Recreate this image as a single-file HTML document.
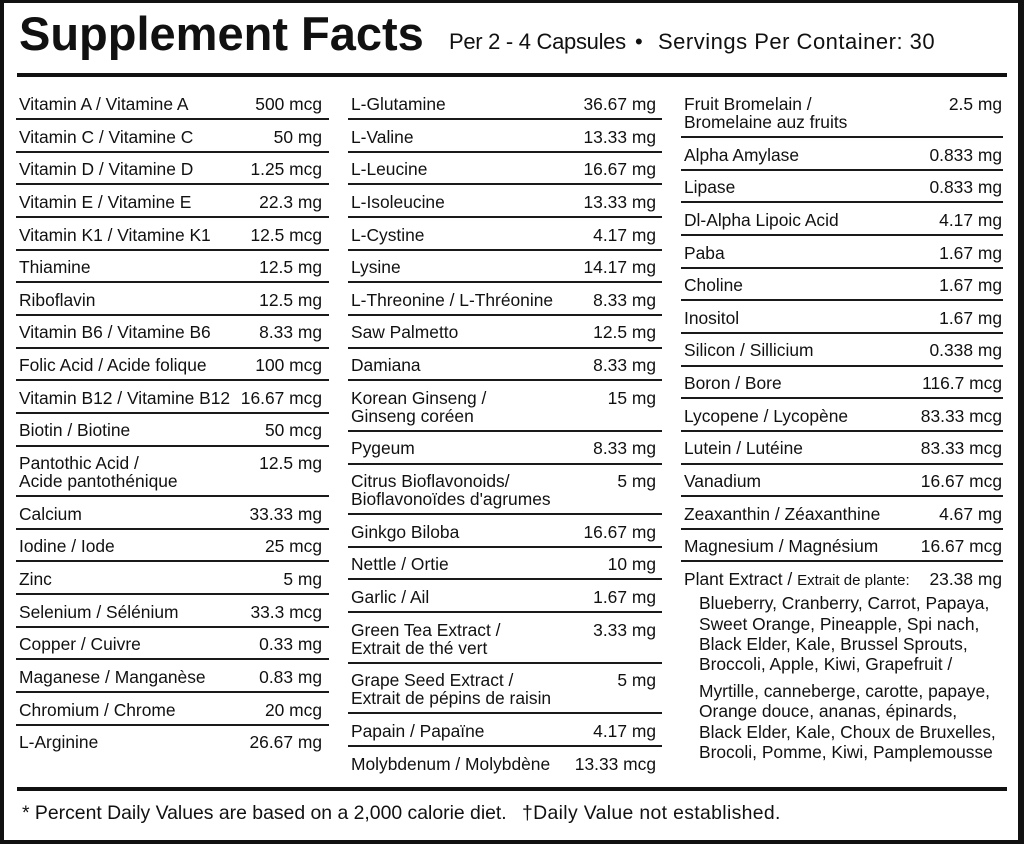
<!DOCTYPE html>
<html>
<head>
<meta charset="utf-8">
<style>
  html, body { margin:0; padding:0; background:#fff; }
  body { width:1024px; height:844px; position:relative; overflow:hidden;
         font-family:"Liberation Sans", Arial, sans-serif; color:#111; }
  .frame { position:absolute; left:0; top:0; width:1024px; height:844px; box-sizing:border-box;
           border-left:4px solid #111; border-top:3px solid #111; border-right:6px solid #111; border-bottom:4px solid #111; }
  .title { position:absolute; left:19px; top:10.2px; font-weight:bold; font-size:47px; line-height:47px; white-space:nowrap; }
  .sub { position:absolute; top:31.4px; font-size:22px; line-height:22px; white-space:nowrap; }
  .thick { position:absolute; left:16.5px; width:990.5px; height:4.6px; background:#111; }
  .col { position:absolute; top:87.5px; font-size:17.4px; }
  .r { box-sizing:border-box; height:32.65px; border-bottom:2px solid #1a1a1a; display:flex; justify-content:space-between;
       align-items:flex-start; line-height:18px; padding-top:7.5px; white-space:nowrap; }
  .d { height:50.65px; }
  .nb { border-bottom:none; }
  .c1 .r { padding-left:3px; padding-right:7px; }
  .c2 .r { padding-left:3px; padding-right:5.5px; }
  .c3 .r { padding-left:3px; padding-right:1px; }
  .plant { line-height:18px; padding-top:7.5px; padding-left:3px; padding-right:1px; white-space:nowrap; }
  .plant .top { display:flex; justify-content:space-between; }
  .small { font-size:15px; }
  .list { padding-left:15px; margin-top:3.2px; line-height:20.4px; }
  .gap { margin-top:6px; }
  .foot { position:absolute; top:804px; font-size:19.4px; line-height:18px; white-space:nowrap; }
</style>
</head>
<body>
<div class="frame"></div>

<div class="title">Supplement Facts</div>
<div class="sub" style="left:449px; letter-spacing:-0.3px;">Per 2 - 4 Capsules</div>
<div class="sub" style="left:635px;">•</div>
<div class="sub" style="left:658px; letter-spacing:0.5px;">Servings Per Container: 30</div>

<div class="thick" style="top:72.7px;"></div>

<div class="col c1" style="left:16px; width:313px;">
  <div class="r"><span>Vitamin A / Vitamine A</span><span>500 mcg</span></div>
  <div class="r"><span>Vitamin C / Vitamine C</span><span>50 mg</span></div>
  <div class="r"><span>Vitamin D / Vitamine D</span><span>1.25 mcg</span></div>
  <div class="r"><span>Vitamin E / Vitamine E</span><span>22.3 mg</span></div>
  <div class="r"><span>Vitamin K1 / Vitamine K1</span><span>12.5 mcg</span></div>
  <div class="r"><span>Thiamine</span><span>12.5 mg</span></div>
  <div class="r"><span>Riboflavin</span><span>12.5 mg</span></div>
  <div class="r"><span>Vitamin B6 / Vitamine B6</span><span>8.33 mg</span></div>
  <div class="r"><span>Folic Acid / Acide folique</span><span>100 mcg</span></div>
  <div class="r"><span>Vitamin B12 / Vitamine B12</span><span>16.67 mcg</span></div>
  <div class="r"><span>Biotin / Biotine</span><span>50 mcg</span></div>
  <div class="r d"><span>Pantothic Acid /<br>Acide pantothénique</span><span>12.5 mg</span></div>
  <div class="r"><span>Calcium</span><span>33.33 mg</span></div>
  <div class="r"><span>Iodine / Iode</span><span>25 mcg</span></div>
  <div class="r"><span>Zinc</span><span>5 mg</span></div>
  <div class="r"><span>Selenium / Sélénium</span><span>33.3 mcg</span></div>
  <div class="r"><span>Copper / Cuivre</span><span>0.33 mg</span></div>
  <div class="r"><span>Maganese / Manganèse</span><span>0.83 mg</span></div>
  <div class="r"><span>Chromium / Chrome</span><span>20 mcg</span></div>
  <div class="r nb"><span>L-Arginine</span><span>26.67 mg</span></div>
</div>

<div class="col c2" style="left:348px; width:313.5px;">
  <div class="r"><span>L-Glutamine</span><span>36.67 mg</span></div>
  <div class="r"><span>L-Valine</span><span>13.33 mg</span></div>
  <div class="r"><span>L-Leucine</span><span>16.67 mg</span></div>
  <div class="r"><span>L-Isoleucine</span><span>13.33 mg</span></div>
  <div class="r"><span>L-Cystine</span><span>4.17 mg</span></div>
  <div class="r"><span>Lysine</span><span>14.17 mg</span></div>
  <div class="r"><span>L-Threonine / L-Thréonine</span><span>8.33 mg</span></div>
  <div class="r"><span>Saw Palmetto</span><span>12.5 mg</span></div>
  <div class="r"><span>Damiana</span><span>8.33 mg</span></div>
  <div class="r d"><span>Korean Ginseng /<br>Ginseng coréen</span><span>15 mg</span></div>
  <div class="r"><span>Pygeum</span><span>8.33 mg</span></div>
  <div class="r d"><span>Citrus Bioflavonoids/<br>Bioflavonoïdes d'agrumes</span><span>5 mg</span></div>
  <div class="r"><span>Ginkgo Biloba</span><span>16.67 mg</span></div>
  <div class="r"><span>Nettle / Ortie</span><span>10 mg</span></div>
  <div class="r"><span>Garlic / Ail</span><span>1.67 mg</span></div>
  <div class="r d"><span>Green Tea Extract /<br>Extrait de thé vert</span><span>3.33 mg</span></div>
  <div class="r d"><span>Grape Seed Extract /<br>Extrait de pépins de raisin</span><span>5 mg</span></div>
  <div class="r"><span>Papain / Papaïne</span><span>4.17 mg</span></div>
  <div class="r nb"><span>Molybdenum / Molybdène</span><span>13.33 mcg</span></div>
</div>

<div class="col c3" style="left:681px; width:322px;">
  <div class="r d"><span>Fruit Bromelain /<br>Bromelaine auz fruits</span><span>2.5 mg</span></div>
  <div class="r"><span>Alpha Amylase</span><span>0.833 mg</span></div>
  <div class="r"><span>Lipase</span><span>0.833 mg</span></div>
  <div class="r"><span>Dl-Alpha Lipoic Acid</span><span>4.17 mg</span></div>
  <div class="r"><span>Paba</span><span>1.67 mg</span></div>
  <div class="r"><span>Choline</span><span>1.67 mg</span></div>
  <div class="r"><span>Inositol</span><span>1.67 mg</span></div>
  <div class="r"><span>Silicon / Sillicium</span><span>0.338 mg</span></div>
  <div class="r"><span>Boron / Bore</span><span>116.7 mcg</span></div>
  <div class="r"><span>Lycopene / Lycopène</span><span>83.33 mcg</span></div>
  <div class="r"><span>Lutein / Lutéine</span><span>83.33 mcg</span></div>
  <div class="r"><span>Vanadium</span><span>16.67 mcg</span></div>
  <div class="r"><span>Zeaxanthin / Zéaxanthine</span><span>4.67 mg</span></div>
  <div class="r"><span>Magnesium / Magnésium</span><span>16.67 mcg</span></div>
  <div class="plant">
    <div class="top"><span>Plant Extract / <span class="small">Extrait de plante:</span></span><span>23.38 mg</span></div>
    <div class="list">
      <div>Blueberry, Cranberry, Carrot, Papaya,</div>
      <div>Sweet Orange, Pineapple, Spi nach,</div>
      <div>Black Elder, Kale, Brussel Sprouts,</div>
      <div>Broccoli, Apple, Kiwi, Grapefruit /</div>
      <div class="gap">Myrtille, canneberge, carotte, papaye,</div>
      <div>Orange douce, ananas, épinards,</div>
      <div>Black Elder, Kale, Choux de Bruxelles,</div>
      <div>Brocoli, Pomme, Kiwi, Pamplemousse</div>
    </div>
  </div>
</div>

<div class="thick" style="top:786.5px;"></div>

<div class="foot" style="left:22px;">* Percent Daily Values are based on a 2,000 calorie diet.</div>
<div class="foot" style="left:522px; letter-spacing:0.35px;">†Daily Value not established.</div>
</body>
</html>
